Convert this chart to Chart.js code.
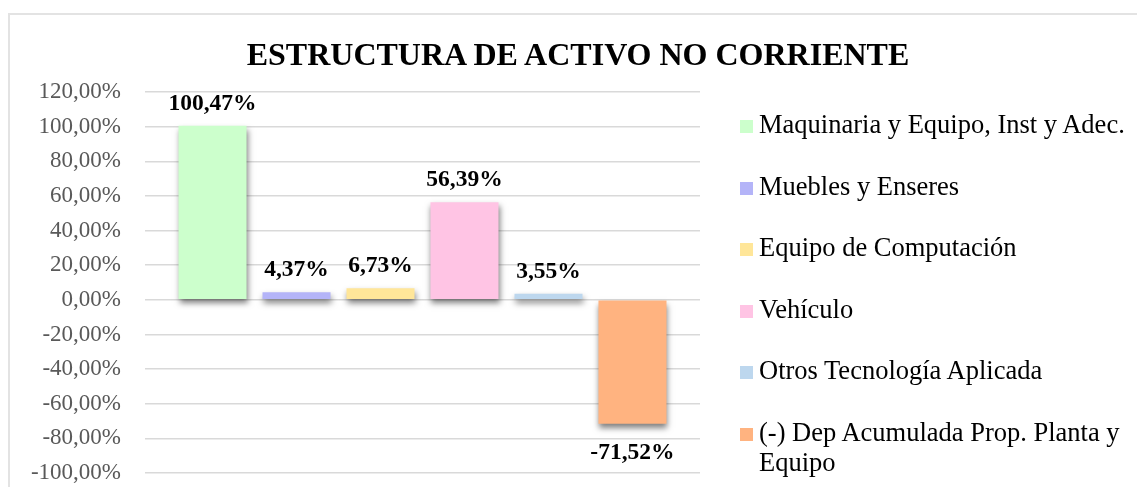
<!DOCTYPE html>
<html>
<head>
<meta charset="utf-8">
<script src="https://cdn.jsdelivr.net/npm/chart.js@4/dist/chart.umd.min.js"></script>
<style>
    html, body { margin: 0; padding: 0; background: #fff; overflow: hidden; }
    body { width: 1137px; height: 487px; position: relative; font-family: "Liberation Serif", "Times New Roman", serif; }
    #frame { position: absolute; left: 8px; top: 13px; width: 1200px; height: 600px; border: 2px solid #e3e3e3; }
    #chartBox { position: absolute; left: 0; top: 0; width: 1137px; height: 487px; }
    #title { position: absolute; left: 0; top: 37px; width: 1156px; text-align: center; font-weight: bold; font-size: 32px; line-height: 34px; color: #000; }
    #chartLegend { position: absolute; left: 740px; top: 109px; }
    .legend-item { display: flex; align-items: flex-start; margin-bottom: 31.6px; }
    .legend-box { width: 13px; height: 13px; margin-top: 11px; margin-right: 6px; flex: none; }
    .legend-text { font-size: 26.5px; line-height: 30px; color: #000; width: 375px; }
</style>
</head>
<body>
<div id="frame"></div>
<div id="chartBox"><canvas id="activoChart" width="1137" height="487"></canvas></div>
<div id="title">ESTRUCTURA DE ACTIVO NO CORRIENTE</div>
<div id="chartLegend"></div>
<script>
    // Series (one bar each)
    const seriesNames = [
        'Maquinaria y Equipo, Inst y Adec.',
        'Muebles y Enseres',
        'Equipo de Computación',
        'Vehículo',
        'Otros Tecnología Aplicada',
        '(-) Dep Acumulada Prop. Planta y Equipo'
    ];
    const seriesValues = [100.47, 4.37, 6.73, 56.39, 3.55, -71.52];
    const seriesColors = ['#CCFFCC', '#B4B4F8', '#FFE699', '#FFC4E4', '#BDD7EE', '#FFB380'];
    const categories = [''];
    const yTicks = [-100, -80, -60, -40, -20, 0, 20, 40, 60, 80, 100, 120];

    const serif = '"Liberation Serif", "Times New Roman", serif';

    function pct(v) {
        return v.toFixed(2).replace('.', ',') + '%';
    }

    // Shadow under the bars + value labels
    const barExtras = {
        id: 'barExtras',
        beforeDatasetsDraw(chart) {
            const ctx = chart.ctx;
            ctx.save();
            ctx.shadowColor = 'rgba(0,0,0,0.5)';
            ctx.shadowBlur = 6;
            ctx.shadowOffsetX = 1;
            ctx.shadowOffsetY = 4;
        },
        afterDatasetsDraw(chart) {
            const ctx = chart.ctx;
            ctx.restore();
            ctx.save();
            ctx.font = 'bold 23.5px ' + serif;
            ctx.fillStyle = '#000';
            ctx.textAlign = 'center';
            ctx.textBaseline = 'alphabetic';
            chart.data.datasets.forEach((ds, i) => {
                const meta = chart.getDatasetMeta(i);
                meta.data.forEach((bar, j) => {
                    const v = ds.data[j];
                    const y = v >= 0 ? bar.y - 16 : bar.y + 35;
                    ctx.fillText(pct(v), bar.x, y);
                });
            });
            ctx.restore();
        }
    };

    const ctx = document.getElementById('activoChart').getContext('2d');
    const chart = new Chart(ctx, {
        type: 'bar',
        data: {
            labels: categories,
            datasets: seriesNames.map((name, i) => ({
                label: name,
                data: [seriesValues[i]],
                backgroundColor: seriesColors[i],
                borderWidth: 0,
                categoryPercentage: 0.908,
                barPercentage: 0.81
            }))
        },
        options: {
            responsive: false,
            animation: false,
            devicePixelRatio: 1,
            layout: {
                padding: { top: 92, right: 437, bottom: 14, left: 0 }
            },
            plugins: {
                legend: { display: false },
                tooltip: { enabled: false },
                title: { display: false }
            },
            scales: {
                x: { display: false },
                y: {
                    min: -100,
                    max: 120,
                    afterFit: scale => {
                        scale.width = 145;
                        scale.paddingTop = 0;
                        scale.paddingBottom = 0;
                    },
                    afterBuildTicks: scale => {
                        scale.ticks = yTicks.map(v => ({ value: v }));
                    },
                    border: { display: false },
                    grid: {
                        color: '#d9d9d9',
                        lineWidth: 1.5,
                        drawTicks: false
                    },
                    ticks: {
                        padding: 24,
                        color: '#595959',
                        font: { family: serif, size: 23 },
                        callback: v => pct(v)
                    }
                }
            }
        },
        plugins: [barExtras]
    });

    // Legend
    const legendContainer = document.getElementById('chartLegend');
    seriesNames.forEach((name, i) => {
        const item = document.createElement('div');
        item.className = 'legend-item';
        item.innerHTML = `<span class="legend-box" style="background:${seriesColors[i]}"></span><span class="legend-text">${name}</span>`;
        legendContainer.appendChild(item);
    });
</script>
</body>
</html>
